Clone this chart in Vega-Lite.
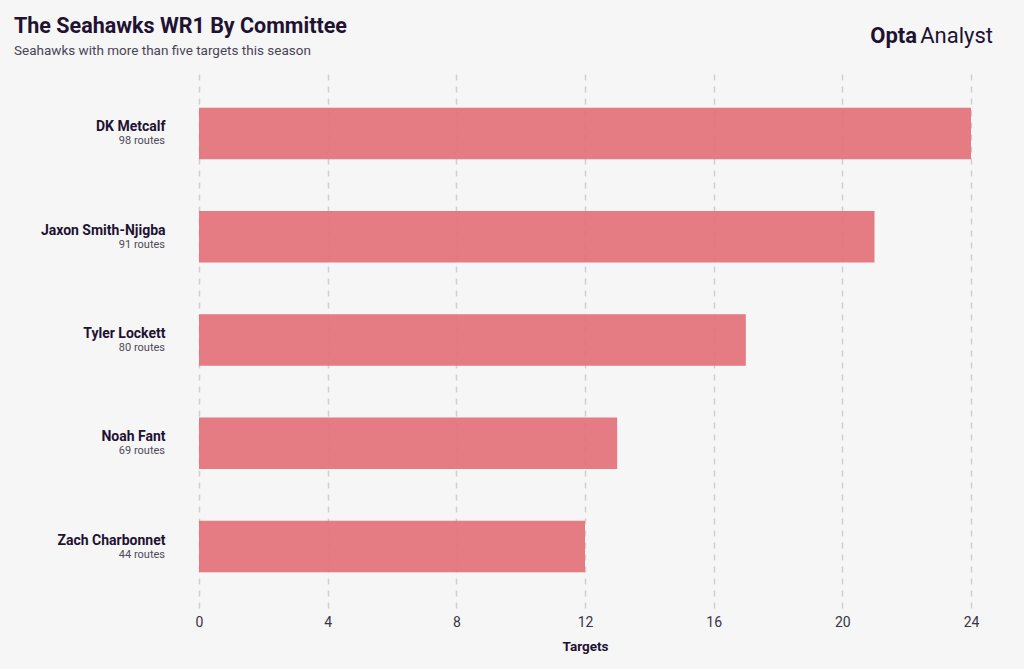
{
  "$schema": "https://vega.github.io/schema/vega-lite/v6.json",
  "width": 772,
  "height": 536,
  "autosize": {"type": "none"},
  "padding": {"left": 199, "top": 72, "right": 53, "bottom": 61},
  "background": "#f6f6f6",
  "config": {"view": {"stroke": null}, "font": "Roboto"},
  "title": {
    "text": "The Seahawks WR1 By Committee",
    "subtitle": "Seahawks with more than five targets this season",
    "anchor": "start",
    "frame": "group",
    "dx": -185,
    "dy": 49,
    "offset": 17,
    "font": "Roboto",
    "fontSize": 21.5,
    "fontWeight": "bold",
    "color": "#1f1233",
    "subtitleFont": "Roboto",
    "subtitleFontSize": 13.5,
    "subtitleColor": "#4a4458",
    "subtitlePadding": 6
  },
  "datasets": {
    "players": [
      {"player": "DK Metcalf", "routes": "98 routes", "targets": 24},
      {"player": "Jaxon Smith-Njigba", "routes": "91 routes", "targets": 21},
      {"player": "Tyler Lockett", "routes": "80 routes", "targets": 17},
      {"player": "Noah Fant", "routes": "69 routes", "targets": 13},
      {"player": "Zach Charbonnet", "routes": "44 routes", "targets": 12}
    ],
    "logo1": [{"part": "Opta"}],
    "logo2": [{"part": "Analyst"}]
  },
  "layer": [
    {
      "data": {"name": "players"},
      "mark": {"type": "bar", "color": "#e4727a", "opacity": 0.93},
      "encoding": {
        "x": {
          "field": "targets",
          "type": "quantitative",
          "scale": {"domain": [0, 24], "nice": false},
          "axis": {
            "values": [0, 4, 8, 12, 16, 20, 24],
            "grid": true,
            "gridDash": [6, 6],
            "gridColor": "#cfcfcf",
            "gridWidth": 1.5,
            "domain": false,
            "ticks": false,
            "tickSize": 0,
            "labelFlush": false,
            "labelPadding": 7,
            "labelFontSize": 14,
            "labelColor": "#3a3448",
            "title": "Targets",
            "titleFontSize": 13.5,
            "titleFontWeight": "bold",
            "titleColor": "#1f1233",
            "titlePadding": 10
          }
        },
        "y": {
          "field": "player",
          "type": "nominal",
          "sort": null,
          "scale": {"paddingInner": 0.5, "paddingOuter": 0.345},
          "axis": {
            "title": null,
            "domain": false,
            "ticks": false,
            "tickSize": 0,
            "grid": false,
            "labelPadding": 34,
            "labelFontSize": 14,
            "labelFontWeight": "bold",
            "labelColor": "#1f1233",
            "labelOffset": -6
          }
        }
      }
    },
    {
      "data": {"name": "players"},
      "mark": {"type": "text", "align": "right", "baseline": "middle", "dx": -34, "dy": 8, "fontSize": 11, "color": "#4f4a5a"},
      "encoding": {
        "x": {"datum": 0},
        "y": {"field": "player", "type": "nominal", "sort": null},
        "text": {"field": "routes"}
      }
    },
    {
      "data": {"name": "logo1"},
      "mark": {"type": "text", "align": "right", "baseline": "middle", "fontSize": 22, "fontWeight": "bold", "color": "#1f1233", "y": -36, "dx": -54},
      "encoding": {
        "x": {"datum": 24},
        "text": {"field": "part"}
      }
    },
    {
      "data": {"name": "logo2"},
      "mark": {"type": "text", "align": "right", "baseline": "middle", "fontSize": 22, "color": "#1f1233", "y": -36, "dx": 22},
      "encoding": {
        "x": {"datum": 24},
        "text": {"field": "part"}
      }
    }
  ]
}
